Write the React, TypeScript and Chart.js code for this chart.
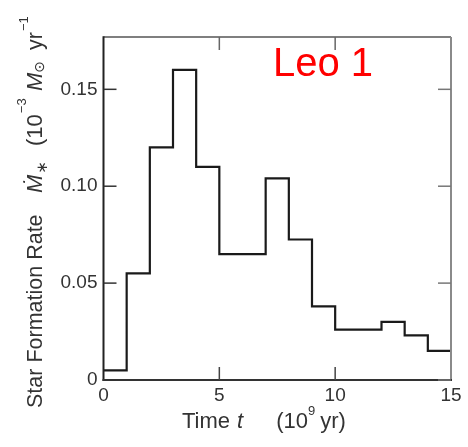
import React, { useEffect, useRef } from "react";
import { Chart, registerables } from "chart.js";

Chart.register(...registerables);

// Bin edges (10^9 yr) and star formation rate per bin (10^-3 Msun/yr)
const binEdges = [0, 1, 2, 3, 4, 5, 6, 7, 8, 9, 10, 11, 12, 13, 14, 15];
const rates = [0.005, 0.055, 0.12, 0.16, 0.11, 0.065, 0.065, 0.104, 0.0725, 0.038, 0.026, 0.026, 0.03, 0.023, 0.015];
const xTicks = [0, 5, 10, 15];
const yTicks = [0, 0.05, 0.1, 0.15];
const yTickLabels = ["0", "0.05", "0.10", "0.15"];
const X_MIN = 0;
const X_MAX = 15;
const Y_MIN = 0;
const Y_MAX = 0.177;

const FONT = "'Liberation Sans', Arial, 'DejaVu Sans', sans-serif";

type Seg = { t: string; f: string; dy?: number; at?: number; gap?: number };

function drawRich(ctx: CanvasRenderingContext2D, segs: Seg[]) {
  let x = 0;
  for (const s of segs) {
    if (s.at !== undefined) x = s.at;
    if (s.gap) x += s.gap;
    ctx.font = `${s.f} ${FONT}`;
    ctx.fillText(s.t, x, s.dy || 0);
    x += ctx.measureText(s.t).width;
  }
}

const framePlugin = {
  id: "frame",
  afterDatasetsDraw(chart: any) {
    const ctx: CanvasRenderingContext2D = chart.ctx;
    const { left, right, top, bottom } = chart.chartArea;
    const xs = chart.scales.x;
    const ys = chart.scales.y;
    const tl = 13;
    ctx.save();
    ctx.lineCap = "butt";
    // top
    ctx.strokeStyle = "#555";
    ctx.lineWidth = 1.5;
    ctx.beginPath();
    ctx.moveTo(left, top);
    ctx.lineTo(right, top);
    ctx.stroke();
    // right
    ctx.strokeStyle = "#8a8a8a";
    ctx.lineWidth = 2;
    ctx.beginPath();
    ctx.moveTo(right, top);
    ctx.lineTo(right, bottom);
    ctx.stroke();
    // left & bottom
    ctx.strokeStyle = "#222";
    ctx.lineWidth = 2;
    ctx.beginPath();
    ctx.moveTo(left, top - 0.75);
    ctx.lineTo(left, bottom + 1);
    ctx.stroke();
    ctx.strokeStyle = "#333";
    ctx.beginPath();
    ctx.moveTo(left - 1, bottom);
    ctx.lineTo(right + 1, bottom);
    ctx.stroke();
    // ticks
    ctx.lineWidth = 1.5;
    for (const v of yTicks) {
      const y = ys.getPixelForValue(v);
      ctx.strokeStyle = "#333";
      ctx.beginPath();
      ctx.moveTo(left, y);
      ctx.lineTo(left + tl, y);
      ctx.stroke();
      ctx.strokeStyle = "#777";
      ctx.beginPath();
      ctx.moveTo(right, y);
      ctx.lineTo(right - tl, y);
      ctx.stroke();
    }
    for (const v of xTicks) {
      if (v === X_MIN || v === X_MAX) continue;
      const x = xs.getPixelForValue(v);
      ctx.strokeStyle = "#444";
      ctx.beginPath();
      ctx.moveTo(x, bottom);
      ctx.lineTo(x, bottom - tl);
      ctx.stroke();
      ctx.strokeStyle = "#666";
      ctx.beginPath();
      ctx.moveTo(x, top);
      ctx.lineTo(x, top + tl);
      ctx.stroke();
    }

    // titles
    ctx.fillStyle = "#333";
    ctx.textBaseline = "alphabetic";
    ctx.textAlign = "left";
    // y title (rotated)
    ctx.save();
    ctx.translate(42, 408);
    ctx.rotate(-Math.PI / 2);
    drawRich(ctx, [
      { t: "Star Formation Rate", f: "21.5px", at: 0 },
      { t: "Ṁ", f: "italic 22px", at: 215 },
      { t: "∗", f: "15px", dy: 5, gap: 1 },
      { t: "(10", f: "22px", at: 262 },
      { t: "−3", f: "13px", dy: -16, gap: 1 },
      { t: "M", f: "italic 22px", at: 317 },
      { t: "⊙", f: "14px", dy: 2 },
      { t: "yr", f: "21.5px", at: 358 },
      { t: "−1", f: "13px", dy: -14, gap: 1 },
    ]);
    ctx.restore();
    // x title
    ctx.save();
    ctx.translate(182, 428);
    drawRich(ctx, [
      { t: "Time", f: "22px", at: 0 },
      { t: "t", f: "italic 22px", gap: 7 },
      { t: "(10", f: "22px", gap: 33 },
      { t: "9", f: "13px", dy: -13 },
      { t: "yr)", f: "22px", gap: 5 },
    ]);
    ctx.restore();
    // label
    ctx.fillStyle = "#ff0000";
    ctx.font = `40px ${FONT}`;
    ctx.fillText("Leo 1", 273, 76);
    ctx.restore();
  },
};

export default function App() {
  const ref = useRef<HTMLCanvasElement | null>(null);
  useEffect(() => {
    if (!ref.current) return;
    const points = binEdges.map((x, i) => ({ x, y: rates[Math.min(i, rates.length - 1)] }));
    const chart = new Chart(ref.current, {
      type: "line",
      data: {
        datasets: [
          {
            data: points,
            stepped: "before",
            borderColor: "#1a1a1a",
            borderWidth: 2.2,
            pointRadius: 0,
            fill: false,
            clip: false as any,
          },
        ],
      },
      options: {
        animation: false,
        responsive: false,
        events: [],
        layout: { padding: { top: 37, right: 17, left: 0, bottom: 0 } },
        plugins: { legend: { display: false }, tooltip: { enabled: false } },
        scales: {
          x: {
            type: "linear",
            min: X_MIN,
            max: X_MAX,
            afterBuildTicks: (s: any) => {
              s.ticks = xTicks.map((v) => ({ value: v }));
            },
            afterFit: (s: any) => {
              s.height = 67;
            },
            ticks: {
              font: { family: FONT, size: 19 },
              color: "#333",
              padding: 4,
              maxRotation: 0,
              autoSkip: false,
            },
            grid: { display: false, drawTicks: false },
            border: { display: false },
          },
          y: {
            type: "linear",
            min: Y_MIN,
            max: Y_MAX,
            afterBuildTicks: (s: any) => {
              s.ticks = yTicks.map((v) => ({ value: v }));
            },
            afterFit: (s: any) => {
              s.width = 103.5;
            },
            ticks: {
              font: { family: FONT, size: 19 },
              color: "#333",
              padding: 6,
              autoSkip: false,
              callback: (v: any) => {
                const i = yTicks.indexOf(Number(v));
                return i >= 0 ? yTickLabels[i] : "";
              },
            },
            grid: { display: false, drawTicks: false },
            border: { display: false },
          },
        },
      },
      plugins: [framePlugin],
    });
    return () => chart.destroy();
  }, []);
  return (
    <div style={{ position: "absolute", left: 0, top: 0, width: 468, height: 447, background: "#fff" }}>
      <canvas ref={ref} width={468} height={447} />
    </div>
  );
}
